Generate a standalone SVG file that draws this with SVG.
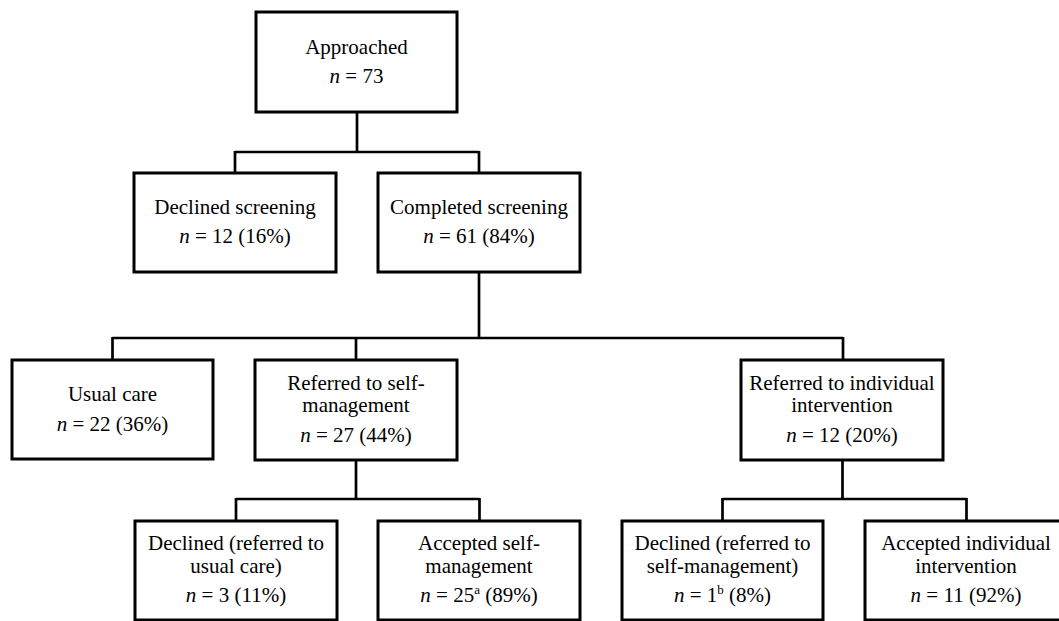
<svg xmlns="http://www.w3.org/2000/svg" width="1059" height="621" viewBox="0 0 1059 621">
<style>
.box{fill:#fff;stroke:#000;stroke-width:3}
.conn{fill:none;stroke:#000;stroke-width:2.7}
text{font-family:"Liberation Serif","Times New Roman",serif;font-size:21px;fill:#000;text-anchor:middle}
.i{font-style:italic}
.sup{font-size:13px}
</style>
<rect width="1059" height="621" fill="#fff"/>
<g id="connectors">
<path class="conn" d="M357,112V152M235,152H479M235,151V173M479,151V173"/>
<path class="conn" d="M479,272V338M112.5,338H843M112.5,337V360M356,337V360M843,337V360"/>
<path class="conn" d="M356,460V499M236,499H479.5M236,498V521M479.5,498V521"/>
<path class="conn" d="M842.5,460V499M722.5,499H966.5M722.5,498V521M966.5,498V521"/>
</g>
<g id="approached">
<rect class="box" x="256" y="12" width="201" height="100"/>
<text x="356.5" y="54">Approached</text>
<text x="356.5" y="83"><tspan class="i">n</tspan> = 73</text>
</g>
<g id="declined-screening">
<rect class="box" x="134" y="173" width="202" height="99"/>
<text x="235" y="214">Declined screening</text>
<text x="235" y="243"><tspan class="i">n</tspan> = 12 (16%)</text>
</g>
<g id="completed-screening">
<rect class="box" x="378" y="173" width="202" height="99"/>
<text x="479" y="214">Completed screening</text>
<text x="479" y="243"><tspan class="i">n</tspan> = 61 (84%)</text>
</g>
<g id="usual-care">
<rect class="box" x="12" y="360" width="201" height="99"/>
<text x="112.5" y="401">Usual care</text>
<text x="112.5" y="431"><tspan class="i">n</tspan> = 22 (36%)</text>
</g>
<g id="referred-self">
<rect class="box" x="255" y="360" width="202" height="100"/>
<text x="356" y="390">Referred to self-</text>
<text x="356" y="412">management</text>
<text x="356" y="442"><tspan class="i">n</tspan> = 27 (44%)</text>
</g>
<g id="referred-individual">
<rect class="box" x="741" y="360" width="202" height="100"/>
<text x="842" y="390">Referred to individual</text>
<text x="842" y="412">intervention</text>
<text x="842" y="442"><tspan class="i">n</tspan> = 12 (20%)</text>
</g>
<g id="declined-usual">
<rect class="box" x="135" y="521" width="202" height="99"/>
<text x="236" y="550">Declined (referred to</text>
<text x="236" y="573">usual care)</text>
<text x="236" y="602"><tspan class="i">n</tspan> = 3 (11%)</text>
</g>
<g id="accepted-self">
<rect class="box" x="378" y="521" width="202" height="99"/>
<text x="479" y="550">Accepted self-</text>
<text x="479" y="573">management</text>
<text x="479" y="602"><tspan class="i">n</tspan> = 25<tspan class="sup" dy="-8">a</tspan><tspan dy="8"> (89%)</tspan></text>
</g>
<g id="declined-self">
<rect class="box" x="622" y="521" width="201" height="99"/>
<text x="722.5" y="550">Declined (referred to</text>
<text x="722.5" y="573">self-management)</text>
<text x="722.5" y="602"><tspan class="i">n</tspan> = 1<tspan class="sup" dy="-8">b</tspan><tspan dy="8"> (8%)</tspan></text>
</g>
<g id="accepted-individual">
<rect class="box" x="865" y="521" width="202" height="99"/>
<text x="966" y="550">Accepted individual</text>
<text x="966" y="573">intervention</text>
<text x="966" y="602"><tspan class="i">n</tspan> = 11 (92%)</text>
</g>
</svg>
